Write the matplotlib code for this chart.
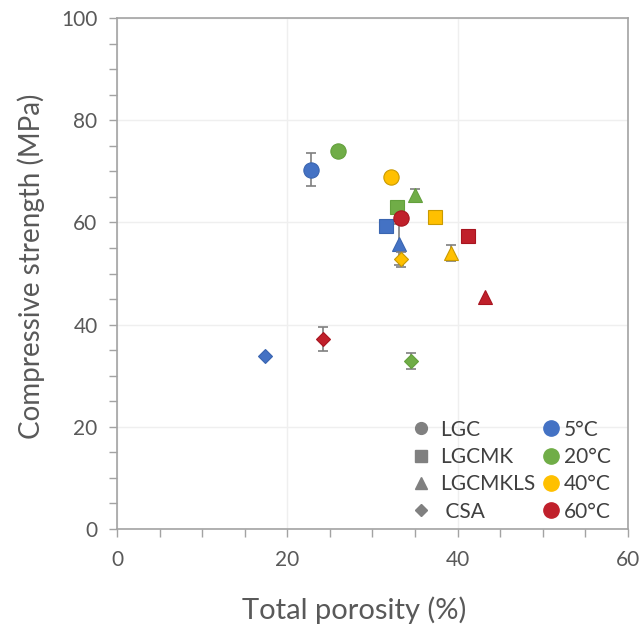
import matplotlib
matplotlib.use("Agg")
import matplotlib.pyplot as plt
from matplotlib.lines import Line2D
import numpy as np

plt.rcParams['font.family'] = ['Lato', 'DejaVu Sans']

temperatures = ['5°C', '20°C', '40°C', '60°C']
temp_colors = ['#4472C4', '#70AD47', '#FFC000', '#C0202B']
temp_edges = ['#3A65B0', '#63A03C', '#C99A00', '#A8141F']

mixes = ['LGC', 'LGCMK', 'LGCMKLS', 'CSA']
mix_markers = ['o', 's', '^', 'D']
mix_sizes = [11, 10.5, 10.5, 7.5]

# porosity (%), strength (MPa) and error per temperature (5, 20, 40, 60 °C)
lgc_porosity = [22.8, 25.9, 32.2, 33.3]
lgc_strength = [70.3, 74.0, 68.9, 60.9]
lgc_err = [3.2, 0, 0, 0]

lgcmk_porosity = [31.6, 32.9, 37.3, 41.2]
lgcmk_strength = [59.3, 63.0, 61.1, 57.3]
lgcmk_err = [0, 0, 0, 0]

lgcmkls_porosity = [33.1, 35.0, 39.2, 43.2]
lgcmkls_strength = [55.7, 65.3, 54.0, 45.5]
lgcmkls_err = [4.0, 1.2, 1.6, 0]

csa_porosity = [17.4, 34.5, 33.3, 24.2]
csa_strength = [33.9, 32.9, 52.8, 37.2]
csa_err = [0, 1.5, 1.5, 2.4]

x_ticks = [0, 20, 40, 60]
y_ticks = [0, 20, 40, 60, 80, 100]

fig = plt.figure(figsize=(6.41, 6.28), dpi=100)
ax = fig.add_axes([0.1825, 0.1576, 0.7972, 0.8137])

spine_col = '#A3A3A3'
text_col = '#595959'

series = [
    (lgcmk_porosity, lgcmk_strength, lgcmk_err, 1),
    (lgcmkls_porosity, lgcmkls_strength, lgcmkls_err, 2),
    (lgc_porosity, lgc_strength, lgc_err, 0),
    (csa_porosity, csa_strength, csa_err, 3),
]

z = 3
for xs, ys, errs, mi in series:
    for t in range(4):
        if errs[t] > 0:
            ax.errorbar(xs[t], ys[t], yerr=errs[t], fmt='none', ecolor='#7F7F7F',
                        elinewidth=1.2, capsize=3.5, capthick=1.2, zorder=z)
        ax.plot(xs[t], ys[t], linestyle='none', marker=mix_markers[mi],
                markersize=mix_sizes[mi], markerfacecolor=temp_colors[t],
                markeredgecolor=temp_edges[t], markeredgewidth=0.8, zorder=z + 0.5)
    z += 1

ax.set_xlim(0, 60)
ax.set_ylim(0, 100)
ax.set_xticks(x_ticks)
ax.set_yticks(y_ticks)
ax.set_xticks(np.arange(0, 61, 5), minor=True)
ax.set_yticks(np.arange(0, 101, 5), minor=True)
ax.grid(True, which='major', color='#EFEFEF', linewidth=1.0, zorder=0)
ax.set_axisbelow(True)

for s in ax.spines.values():
    s.set_color(spine_col)
    s.set_linewidth(1.2)

ax.tick_params(which='both', direction='out', length=6, width=1.0, color=spine_col,
               labelsize=15, labelcolor=text_col)
ax.tick_params(axis='y', pad=8)
ax.tick_params(axis='x', pad=9)

ax.set_xlabel('Total porosity (%)', fontsize=21, color=text_col)
ax.set_ylabel('Compressive strength (MPa)', fontsize=20, color=text_col)
ax.xaxis.set_label_coords(0.464, -0.132)
ax.yaxis.set_label_coords(-0.141, 0.515)

leg_fs = 15
mix_handles = []
mix_labels = []
for m, mk in zip(mixes, mix_markers):
    ms = 8.5 if mk != 'D' else 6.5
    mix_handles.append(Line2D([], [], linestyle='none', marker=mk, markersize=ms,
                              markerfacecolor='#808080', markeredgecolor='#808080'))
    mix_labels.append(' CSA' if m == 'CSA' else m)

temp_handles = []
for c in temp_colors:
    temp_handles.append(Line2D([], [], linestyle='none', marker='o', markersize=11,
                               markerfacecolor=c, markeredgecolor=c))

common = dict(loc='upper left', frameon=False, fontsize=leg_fs, labelcolor='#404040',
              handlelength=1.0, labelspacing=0.35, borderpad=0, borderaxespad=0)
leg1 = ax.legend(mix_handles, mix_labels, bbox_to_anchor=(0.5746, 0.214),
                 handletextpad=0.41, **common)
ax.add_artist(leg1)
ax.legend(temp_handles, temperatures, bbox_to_anchor=(0.8290, 0.214),
          handletextpad=0.13, **common)

fig.savefig('out.png', dpi=100)
